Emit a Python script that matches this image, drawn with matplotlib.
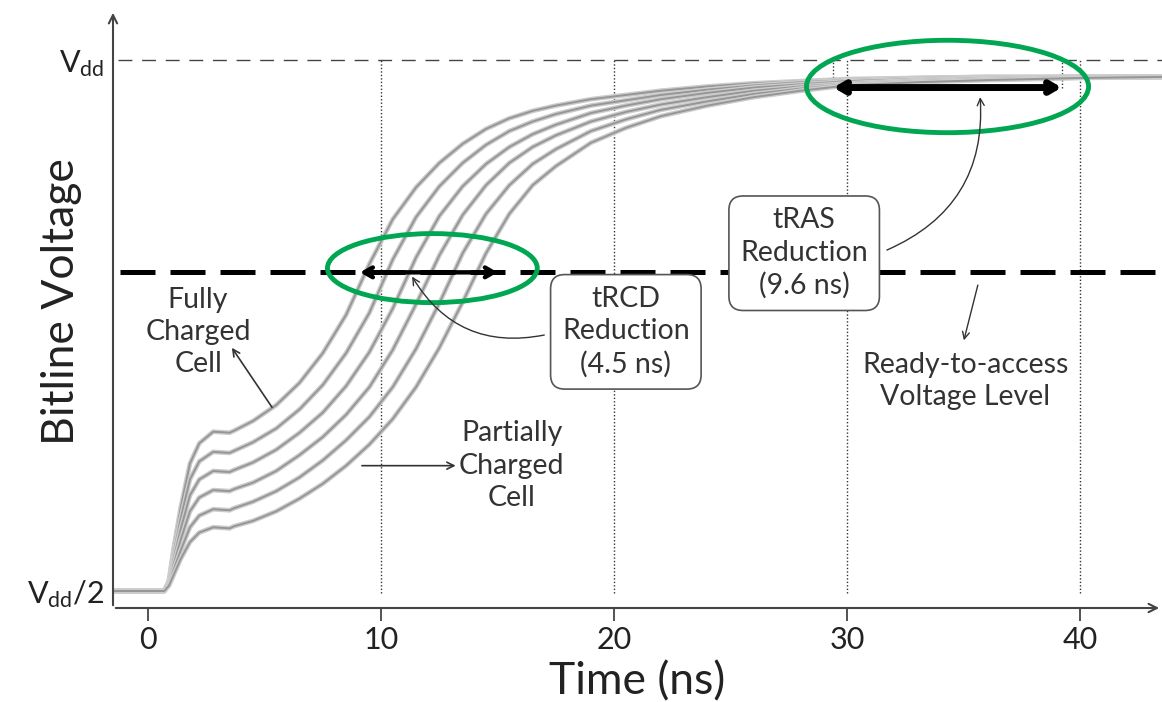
import matplotlib
matplotlib.use("Agg")
from matplotlib import pyplot as plt
from matplotlib.patches import Ellipse

plt.rcParams['font.family'] = ['Lato', 'DejaVu Sans']

# time axis (ns) shared by all bitline curves
t = [-1.5, 0.7, 0.9, 1.1, 1.4, 1.8, 2.2, 2.8, 3.5, 3.7, 4.5, 5.5, 6.5, 7.5, 8.5,
     9.5, 10.5, 11.5, 12.5, 13.5, 14.5, 15.5, 16.5, 17.5, 19, 20.5, 22, 24, 26,
     28, 30, 33, 36, 40, 43.5]

# bitline voltage (Vdd = 1.0, Vdd/2 = 0.5), fully charged -> least charged
v1 = [0.500, 0.500, 0.510, 0.540, 0.578, 0.620, 0.639, 0.650, 0.649, 0.651, 0.660,
      0.675, 0.696, 0.724, 0.760, 0.808, 0.850, 0.880, 0.903, 0.921, 0.935, 0.945,
      0.952, 0.957, 0.963, 0.967, 0.971, 0.975, 0.978, 0.980, 0.982, 0.983, 0.984,
      0.984, 0.984]
v2 = [0.500, 0.500, 0.509, 0.535, 0.568, 0.605, 0.622, 0.631, 0.630, 0.632, 0.640,
      0.653, 0.671, 0.694, 0.724, 0.762, 0.812, 0.852, 0.881, 0.903, 0.920, 0.933,
      0.942, 0.949, 0.957, 0.962, 0.967, 0.972, 0.976, 0.979, 0.981, 0.983, 0.984,
      0.984, 0.984]
v3 = [0.500, 0.500, 0.508, 0.530, 0.558, 0.590, 0.605, 0.613, 0.612, 0.614, 0.621,
      0.633, 0.649, 0.668, 0.693, 0.725, 0.766, 0.814, 0.853, 0.881, 0.902, 0.918,
      0.930, 0.939, 0.950, 0.957, 0.963, 0.969, 0.974, 0.977, 0.980, 0.982, 0.983,
      0.984, 0.984]
v4 = [0.500, 0.500, 0.507, 0.525, 0.548, 0.575, 0.588, 0.595, 0.594, 0.596, 0.602,
      0.613, 0.628, 0.645, 0.666, 0.692, 0.727, 0.770, 0.816, 0.854, 0.882, 0.903,
      0.918, 0.929, 0.942, 0.951, 0.958, 0.965, 0.971, 0.975, 0.978, 0.981, 0.983,
      0.984, 0.984]
v5 = [0.500, 0.500, 0.506, 0.520, 0.538, 0.560, 0.571, 0.577, 0.576, 0.578, 0.584,
      0.594, 0.607, 0.623, 0.642, 0.664, 0.692, 0.728, 0.771, 0.818, 0.855, 0.882,
      0.902, 0.916, 0.933, 0.944, 0.953, 0.961, 0.968, 0.973, 0.977, 0.980, 0.982,
      0.984, 0.984]
v6 = [0.500, 0.500, 0.505, 0.515, 0.530, 0.546, 0.555, 0.560, 0.559, 0.561, 0.566,
      0.575, 0.587, 0.601, 0.618, 0.638, 0.662, 0.692, 0.729, 0.772, 0.818, 0.855,
      0.882, 0.900, 0.922, 0.936, 0.947, 0.957, 0.965, 0.971, 0.976, 0.979, 0.981,
      0.983, 0.984]
curves = [v1, v2, v3, v4, v5, v6]

vdd, vdd_half = 1.0, 0.5
ready_level = 0.800
xticks = [0, 10, 20, 30, 40]
ylabels = [r'$\mathregular{V_{dd}/2}$', r'$\mathregular{V_{dd}}$']

trcd_span = (9.1, 15.0)
tras_span = (29.4, 39.2)
tras_level = 0.974

fig = plt.figure(figsize=(11.62, 7.02), dpi=100)
ax = fig.add_axes([113 / 1162, 94 / 702, 1049 / 1162, 598 / 702])
ax.set_xlim(-1.5, 43.5)
ax.set_ylim(0.484, 1.047)

for s in ['top', 'right', 'left', 'bottom']:
    ax.spines[s].set_visible(False)
# axes with arrow ends
ax.annotate('', xy=(0, 1), xycoords='axes fraction', xytext=(0, 0),
            arrowprops=dict(arrowstyle='->,head_length=0.6,head_width=0.3', lw=1.5, color='#444'))
ax.annotate('', xy=(1.0, 0), xycoords='axes fraction', xytext=(0, 0),
            arrowprops=dict(arrowstyle='->,head_length=0.6,head_width=0.3', lw=1.5, color='#444'))

ax.set_xticks(xticks)
ax.set_xticklabels([str(x) for x in xticks], fontsize=22, color='#222')
ax.tick_params(axis='x', length=9, width=1.3, color='#444', pad=4)
ax.set_yticks([vdd_half, vdd])
ax.set_yticklabels(ylabels, fontsize=22, color='#222')
ax.tick_params(axis='y', length=0, pad=6)
ax.set_xlabel('Time (ns)', fontsize=32, color='#222', labelpad=5)
ax.set_ylabel('Bitline Voltage', fontsize=32, color='#222', va='center')
ax.yaxis.set_label_coords(-0.049, 0.512)

# reference lines
ax.axhline(vdd, xmin=0.005, color='#444', lw=1.0, ls=(0, (10, 7)))
for x in xticks[1:]:
    ax.plot([x, x], [0.498, vdd], color='#333', lw=1.0, ls=(0, (1, 1.5)))
for x in tras_span:
    ax.plot([x, x], [tras_level, vdd], color='#333', lw=1.0, ls=(0, (1, 1.5)))

# bitline curves
for v in curves:
    ax.plot(t, v, color='#cccccc', lw=3.4, solid_capstyle='round', solid_joinstyle='round', zorder=2)
    ax.plot(t, v, color='#969696', lw=1.4, solid_joinstyle='round', zorder=2)

ax.plot([-1.2, 43.5], [ready_level, ready_level], color='black', lw=3.6,
        ls=(0, (7, 3)), zorder=3)

# reduction arrows
ax.annotate('', xy=(trcd_span[0], ready_level), xytext=(trcd_span[1], ready_level),
            arrowprops=dict(arrowstyle='<->,head_length=0.6,head_width=0.35', lw=3.2,
                            color='black', shrinkA=0, shrinkB=0), zorder=4)
ax.annotate('', xy=(tras_span[0], tras_level), xytext=(tras_span[1], tras_level),
            arrowprops=dict(arrowstyle='<->,head_length=0.6,head_width=0.35', lw=5,
                            color='black', shrinkA=0, shrinkB=0), zorder=4)

# green ellipses
ax.add_patch(Ellipse((12.2, 0.804), 9.0, 0.065, fill=False, ec='#00a651', lw=3.5, zorder=5))
ax.add_patch(Ellipse((34.3, 0.975), 12.1, 0.087, fill=False, ec='#00a651', lw=3.5, zorder=5))

tc = '#333'
fs = 20.5
box = dict(boxstyle='round,pad=0.4,rounding_size=0.5', fc='white', ec='#555', lw=1.2)
ax.text(20.5, 0.744, 'tRCD\nReduction\n(4.5 ns)', fontsize=fs, color=tc, ha='center',
        va='center', linespacing=1.3, bbox=box, zorder=6)
ax.text(28.15, 0.818, 'tRAS\nReduction\n(9.6 ns)', fontsize=fs, color=tc, ha='center',
        va='center', linespacing=1.3, bbox=box, zorder=6)
ax.annotate('', xy=(11.33, 0.796), xytext=(17.0, 0.741),
            arrowprops=dict(arrowstyle='->,head_length=0.5,head_width=0.25', lw=1.0, color=tc,
                            connectionstyle='arc3,rad=-0.35', shrinkA=0, shrinkB=0), zorder=6)
ax.annotate('', xy=(35.7, 0.965), xytext=(31.7, 0.821),
            arrowprops=dict(arrowstyle='->,head_length=0.5,head_width=0.25', lw=1.0, color=tc,
                            connectionstyle='arc3,rad=0.35', shrinkA=0, shrinkB=0), zorder=6)

ax.text(2.15, 0.744, 'Fully\nCharged\nCell', fontsize=fs, color=tc, ha='center',
        va='center', linespacing=1.3)
ax.annotate('', xy=(3.6, 0.729), xytext=(5.32, 0.673),
            arrowprops=dict(arrowstyle='->,head_length=0.5,head_width=0.25', lw=1.2, color=tc,
                            shrinkA=0, shrinkB=0))
ax.text(15.6, 0.618, 'Partially\nCharged\nCell', fontsize=fs, color=tc, ha='center',
        va='center', linespacing=1.3)
ax.annotate('', xy=(13.2, 0.618), xytext=(9.18, 0.618),
            arrowprops=dict(arrowstyle='->,head_length=0.5,head_width=0.25', lw=1.2, color=tc,
                            shrinkA=0, shrinkB=0))
ax.text(35.06, 0.698, 'Ready-to-access\nVoltage Level', fontsize=fs, color=tc, ha='center',
        va='center', linespacing=1.3)
ax.annotate('', xy=(35.0, 0.736), xytext=(35.6, 0.788),
            arrowprops=dict(arrowstyle='->,head_length=0.5,head_width=0.25', lw=1.0, color=tc,
                            shrinkA=0, shrinkB=0))

fig.savefig('out.png', dpi=100)
